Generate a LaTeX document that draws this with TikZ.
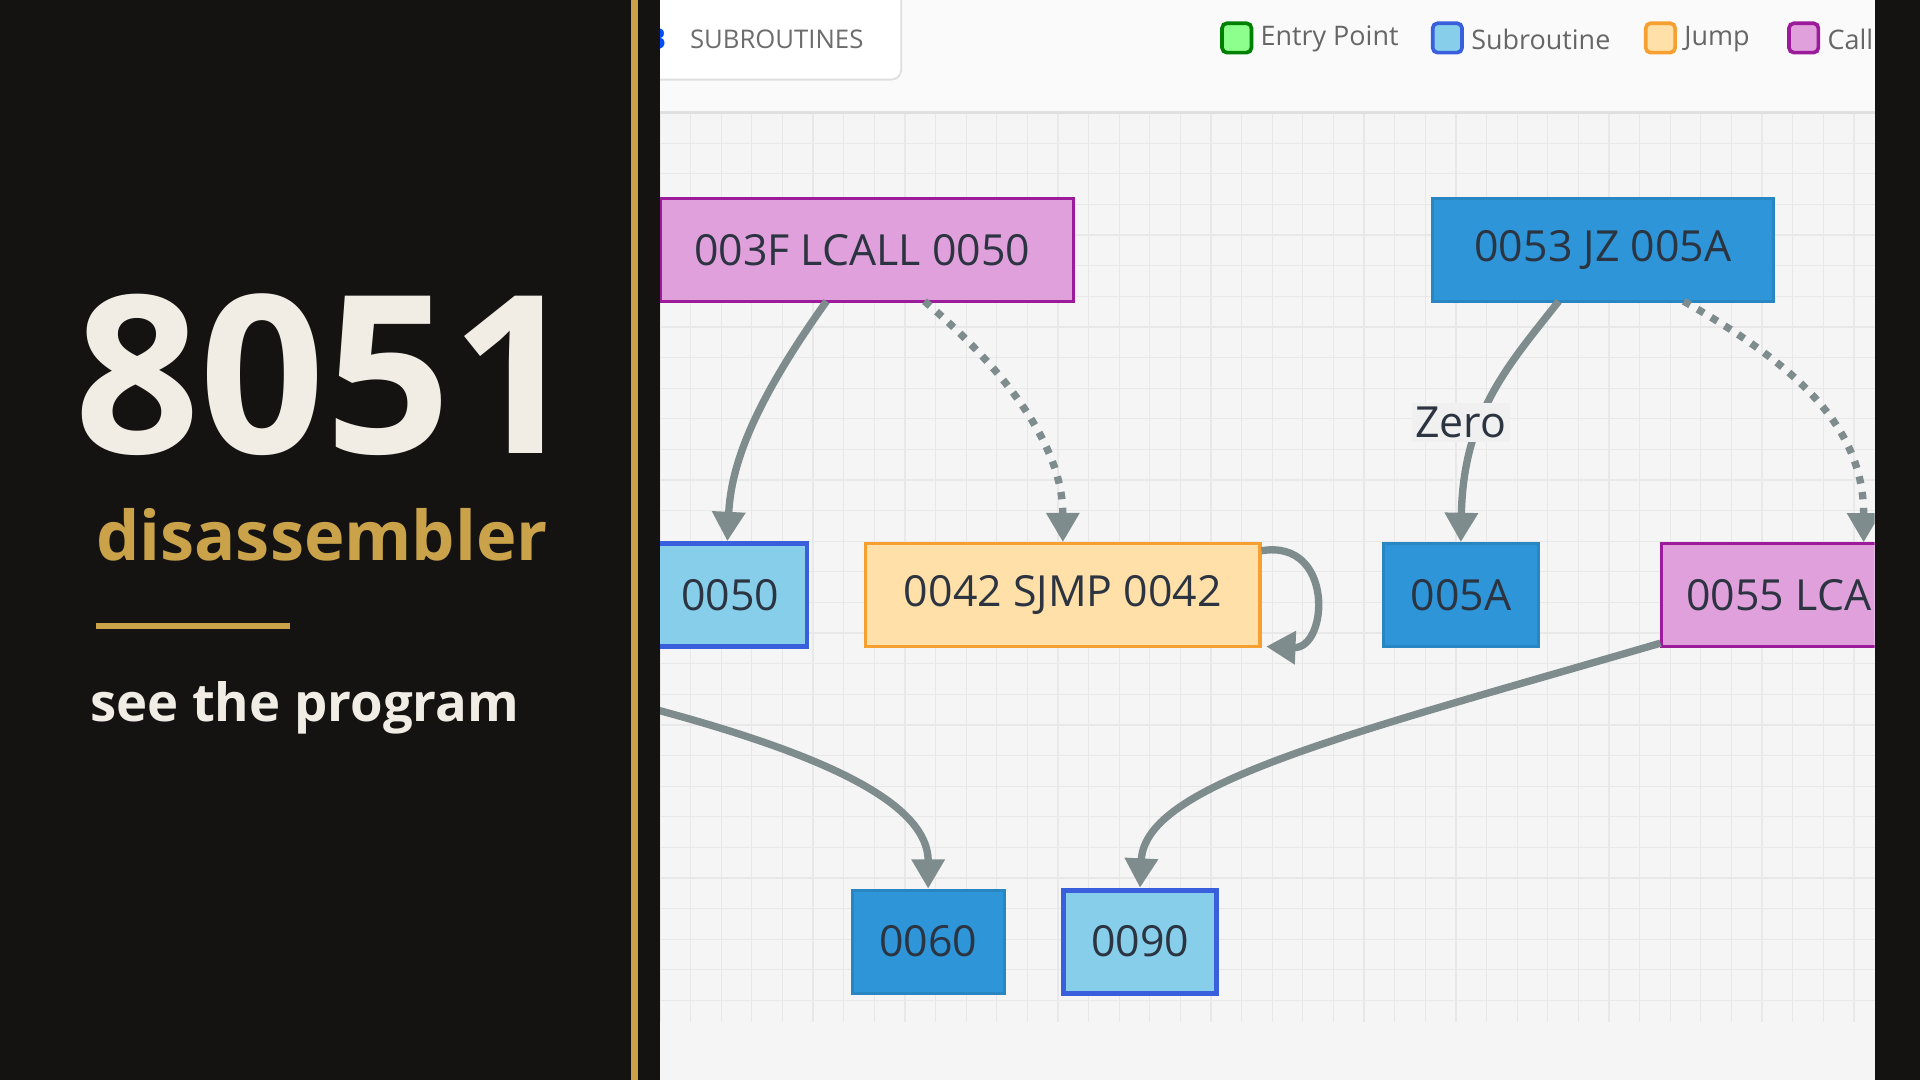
\documentclass[tikz,border=0pt]{standalone}
\usepackage{fontspec}
\setmainfont{Open Sans}
\usetikzlibrary{arrows.meta}
\definecolor{ink}{HTML}{141312}
\definecolor{gold}{HTML}{C9A24A}
\definecolor{cream}{HTML}{F2EDE4}
\definecolor{edge}{HTML}{7F8C8D}
\definecolor{callfill}{HTML}{E0A0DC}
\definecolor{callline}{HTML}{9B1B9B}
\definecolor{subfill}{HTML}{87CEEB}
\definecolor{subline}{HTML}{3A5FDD}
\definecolor{jmpfill}{HTML}{FFE0A8}
\definecolor{jmpline}{HTML}{F5A030}
\definecolor{blk}{HTML}{2D95D8}
\definecolor{txt}{HTML}{2B3440}
\tikzset{
  box/.style={draw, line width=2.5pt, minimum height=84pt, inner sep=0pt, text=txt, font=\fontsize{35}{40}\selectfont},
  call/.style={box, fill=callfill, draw=callline},
  sub/.style={box, fill=subfill, draw=subline, line width=4pt},
  jmp/.style={box, fill=jmpfill, draw=jmpline},
  plain/.style={box, fill=blk, draw=blk!90!black},
  flow/.style={draw=edge, line width=6pt, -{Triangle[length=24pt,width=26pt]}},
  maybe/.style={flow, dash pattern=on 6pt off 7pt},
  key/.style={draw, line width=3pt, rounded corners=4pt, minimum size=24pt},
  keytext/.style={anchor=west, text=gray!80!black, font=\fontsize{22}{24}\selectfont}
}
\begin{document}
\begin{tikzpicture}[x=1pt,y=-1pt]
\useasboundingbox (0,0) rectangle (1568,882);
\fill[ink] (0,0) rectangle (1568,882);
\fill[gold] (515,0) rectangle (521,882);
% panel
\fill[gray!8] (539,0) rectangle (1531,835);
\fill[blue!3!gray!8] (539,835) rectangle (1531,882);
\begin{scope}
\clip (539,92) rectangle (1531,835);
\foreach \x in {539,564,...,1531} \draw[gray!18, line width=1pt] (\x,92) -- (\x,835);
\foreach \y in {92,117,...,835} \draw[gray!18, line width=1pt] (539,\y) -- (1531,\y);
\end{scope}
\fill[gray!4] (539,0) rectangle (1531,92);
\draw[gray!25, line width=2pt] (539,92) -- (1531,92);
\begin{scope}
\clip (539,0) rectangle (1531,882);
\filldraw[white, draw=gray!25, line width=1.5pt, rounded corners=8pt] (500,-20) rectangle (736,65);
\node[text=blue!70!cyan, font=\bfseries\fontsize{24}{26}\selectfont] (icon) at (536,32) {B};
\node[anchor=west, text=gray!85!black, font=\fontsize{21}{24}\selectfont] (tab) at (560,32) {SUBROUTINES};
% legend
\node[key, fill=green!45, draw=green!50!black] (kentry) at (1010,31) {};
\node[keytext] at (1026,32) {Entry Point};
\node[key, fill=subfill, draw=subline] (ksub) at (1182,31) {};
\node[keytext] at (1198,32) {Subroutine};
\node[key, fill=jmpfill, draw=jmpline] (kjmp) at (1356,31) {};
\node[keytext] at (1372,32) {Jump};
\node[key, fill=callfill, draw=callline] (kcall) at (1473,31) {};
\node[keytext] at (1489,32) {Call};
% nodes
\node[call, minimum width=338pt] (n003F) at (708,204) {\hspace*{-8pt}003F LCALL 0050};
\node[plain, minimum width=278pt] (n0053) at (1309,204) {0053 JZ 005A};
\node[sub, minimum width=130pt] (n0050) at (594,486) {\hspace*{5pt}0050};
\node[jmp, minimum width=322pt] (n0042) at (868,486) {0042 SJMP 0042};
\node[plain, minimum width=127pt] (n005A) at (1193,486) {005A};
\node[call, anchor=west, inner xsep=20pt, minimum width=300pt, align=left] (n0055) at (1356,486) {0055 LCALL 0090};
\node[plain, minimum width=124pt] (n0060) at (758,769) {0060};
\node[sub, minimum width=125pt] (n0090) at (931,769) {0090};
\coordinate (offl) at (530,578);
% edges
\draw[flow] (675,246) .. controls (615,330) and (597,380) .. (n0050.north);
\draw[maybe] (755,246) .. controls (830,310) and (868,370) .. (n0042.north);
\draw[flow] (n0042.north east)++(0,7) .. controls (1090,440) and (1085,530) .. (1034,528);
\draw[flow] (1273,246) .. controls (1230,300) and (1195,340) .. (n005A.north);
\draw[maybe] (1375,246) .. controls (1470,300) and (1522,350) .. (1522,443);
\draw[flow] (n0055.south west)++(0,-4) .. controls (1100,600) and (935,640) .. (n0090.north);
\draw[flow] (offl) .. controls (650,610) and (758,650) .. (n0060.north);
\node[fill=gray!12, inner sep=3pt, text=txt, font=\fontsize{35}{40}\selectfont] (lzero) at (1193,345) {Zero};
\end{scope}
% title side
\node[text=cream, font=\bfseries\fontsize{180}{190}\selectfont] (title) at (266,306) {8051};
\node[text=gold, font=\bfseries\fontsize{56}{60}\selectfont] (subt) at (263,437) {disassembler};
\draw[gold, line width=5pt] (78,511) -- (237,511);
\node[anchor=west, text=cream, font=\bfseries\fontsize{43}{48}\selectfont] (tag) at (70,578) {see the program};
\end{tikzpicture}
\end{document}
